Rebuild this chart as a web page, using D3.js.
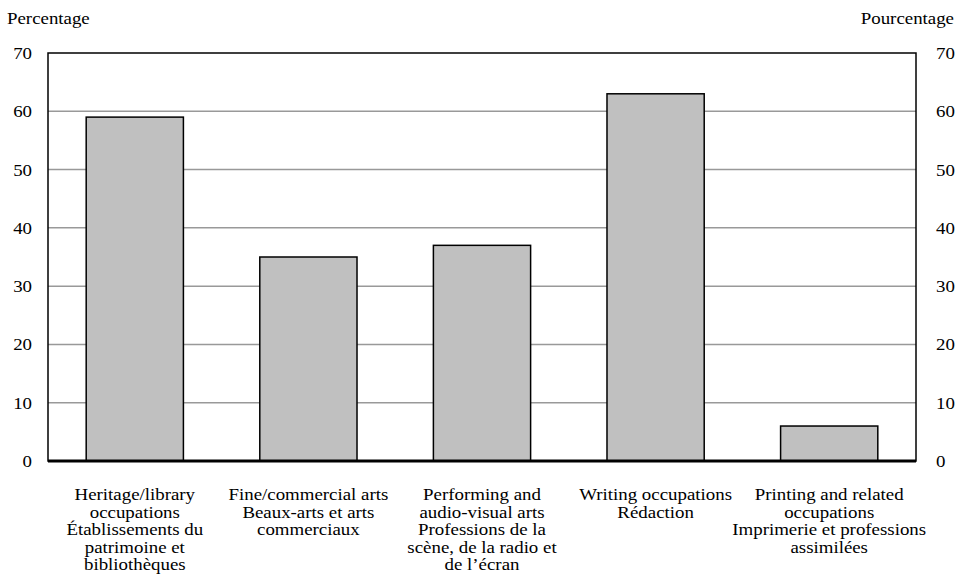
<!DOCTYPE html>
<html><head><meta charset="utf-8">
<script src="https://cdn.jsdelivr.net/npm/d3@7"></script>
<style>body{margin:0;background:#fff}svg{display:block}</style>
</head><body><svg id="c" width="958" height="586"></svg>
<script>
const categories = [
  ["Heritage/library","occupations","Établissements du","patrimoine et","bibliothèques"],
  ["Fine/commercial arts","Beaux-arts et arts","commerciaux"],
  ["Performing and","audio-visual arts","Professions de la","scène, de la radio et","de l’écran"],
  ["Writing occupations","Rédaction"],
  ["Printing and related","occupations","Imprimerie et professions","assimilées"]
];
const values = [59, 35, 37, 63, 6];
const ticks = [0,10,20,30,40,50,60,70];
const leftTitle = "Percentage", rightTitle = "Pourcentage";

const FONT = "'Liberation Serif', 'Times New Roman', serif";
const FS = 16, SX = 1.18;
const svg = d3.select("#c");
const L=48, R=916, T=53, B=461;
const x = d3.scaleBand().domain(d3.range(values.length)).range([L,R]).paddingInner(0.44).paddingOuter(0.22);
const y = d3.scaleLinear().domain([0,70]).range([B,T]);

function label(parent, px, py, anchor, str){
  return parent.append("text").attr("transform",`translate(${px},${py}) scale(${SX},1)`)
    .attr("text-anchor",anchor).attr("font-family",FONT).attr("font-size",FS).attr("fill","#000").text(str);
}

// gridlines
svg.append("g").selectAll("line").data(ticks.filter(t=>t>0&&t<70)).join("line")
  .attr("x1",L).attr("x2",R).attr("y1",d=>y(d)).attr("y2",d=>y(d))
  .attr("stroke","#999").attr("stroke-width",1.5);

// frame
svg.append("rect").attr("x",L).attr("y",T).attr("width",R-L).attr("height",B-T)
  .attr("fill","none").attr("stroke","#000").attr("stroke-width",1.5);

// bars
svg.append("g").selectAll("rect").data(values).join("rect")
  .attr("x",(d,i)=>x(i)).attr("width",x.bandwidth())
  .attr("y",d=>y(d)).attr("height",d=>B-y(d))
  .attr("fill","#c0c0c0").attr("stroke","#000").attr("stroke-width",1.5);

// baseline
svg.append("line").attr("x1",L).attr("x2",R).attr("y1",B).attr("y2",B).attr("stroke","#000").attr("stroke-width",3);

// tick labels
const tl = svg.append("g");
ticks.forEach(t=>{ label(tl, 32, y(t)+6, "end", t); label(tl, 936, y(t)+6, "start", t); });

label(svg, 7, 24, "start", leftTitle);
label(svg, 954, 24, "end", rightTitle);

// category labels
const g = svg.append("g");
categories.forEach((lines,i)=>{
  lines.forEach((ln,j)=>label(g, x(i)+x.bandwidth()/2, 500+j*17.5, "middle", ln));
});
</script></body></html>
